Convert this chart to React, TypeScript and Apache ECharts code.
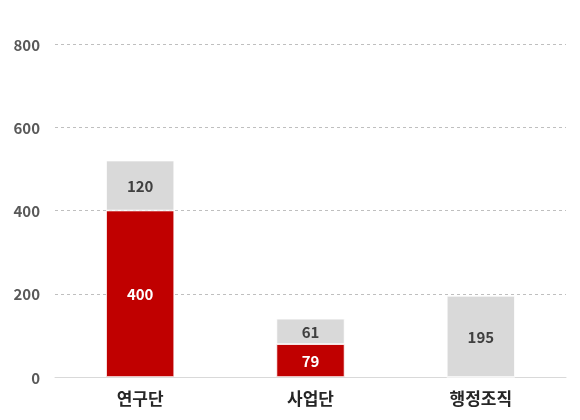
import { useEffect, useRef } from "react";
import * as echarts from "echarts";

const categories = ["연구단", "사업단", "행정조직"];
const redValues = [400, 79, 0];
const greyValues = [120, 61, 195];
const yTicks = { min: 0, max: 800, interval: 200 };

export default function App() {
  const ref = useRef<HTMLDivElement>(null);

  useEffect(() => {
    if (!ref.current) return;
    const chart = echarts.init(ref.current, undefined, { renderer: "svg" });
    const font = "'Malgun Gothic', 'Noto Sans CJK KR', 'Noto Sans', sans-serif";
    const labelFmt = (p: any) => (p.value ? String(p.value) : "");

    chart.setOption({
      animation: false,
      textStyle: { fontFamily: font },
      grid: { left: 55, right: 14, top: 44, bottom: 43 },
      xAxis: {
        type: "category",
        data: categories,
        axisTick: { show: false },
        axisLine: { lineStyle: { color: "#d9d9d9", width: 1 } },
        axisLabel: {
          color: "#262626",
          fontSize: 17,
          fontWeight: "bold",
          margin: 12,
          fontFamily: font,
        },
      },
      yAxis: {
        type: "value",
        min: yTicks.min,
        max: yTicks.max,
        interval: yTicks.interval,
        axisLine: { show: false },
        axisTick: { show: false },
        axisLabel: {
          color: "#595959",
          fontSize: 15,
          fontWeight: "bold",
          margin: 15,
          fontFamily: font,
        },
        splitLine: {
          lineStyle: { color: "#bfbfbf", type: [3, 3], width: 1 },
        },
      },
      series: [
        {
          name: "red",
          type: "bar",
          stack: "total",
          barWidth: "40%",
          data: redValues,
          itemStyle: { color: "#c00000", borderColor: "#ffffff", borderWidth: 0.75 },
          label: {
            show: true,
            position: "inside",
            color: "#ffffff",
            fontSize: 15,
            fontWeight: "bold",
            fontFamily: font,
            formatter: labelFmt,
          },
        },
        {
          name: "grey",
          type: "bar",
          stack: "total",
          barWidth: "40%",
          data: greyValues,
          itemStyle: { color: "#d9d9d9", borderColor: "#ffffff", borderWidth: 0.75 },
          label: {
            show: true,
            position: "inside",
            color: "#404040",
            fontSize: 15,
            fontWeight: "bold",
            fontFamily: font,
            formatter: labelFmt,
          },
        },
      ],
    });

    return () => chart.dispose();
  }, []);

  return (
    <div
      ref={ref}
      style={{ position: "fixed", left: 0, top: 0, width: 580, height: 420 }}
    />
  );
}
